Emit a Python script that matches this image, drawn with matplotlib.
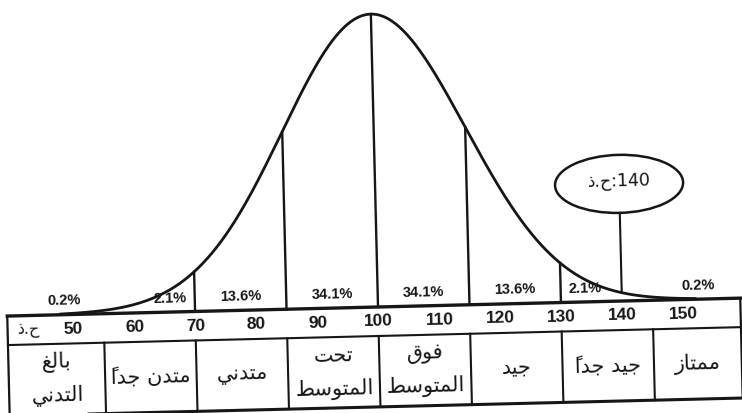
import numpy as np
import matplotlib.pyplot as plt
from matplotlib.patches import Ellipse
from matplotlib.transforms import Affine2D

# ---- data
mean_iq = 100
sd_iq = 15
curve_lines = [70, 85, 100, 115, 130]          # verticals under the curve
cell_edges = [55, 70, 85, 100, 115, 130, 145]  # dividers in the label row
score_ticks = [50, 60, 70, 80, 90, 100, 110, 120, 130, 140, 150]
percents = ['0.2%', '2.1%', '13.6%', '34.1%', '34.1%', '13.6%', '2.1%', '0.2%']
categories = ['بالغ\nالتدني', 'متدن جداً', 'متدني', 'تحت\nالمتوسط',
              'فوق\nالمتوسط', 'جيد', 'جيد جداً', 'ممتاز']
iq_label = 'ح.ذ'
marked_score = 140

# ---- tiny arabic shaper (matplotlib does not join letters itself)
# isolated, final, initial, medial
FORMS = {
    'ا': ('\uFE8D', '\uFE8E', None, None),
    'أ': ('\uFE83', '\uFE84', None, None),
    'ب': ('\uFE8F', '\uFE90', '\uFE91', '\uFE92'),
    'ت': ('\uFE95', '\uFE96', '\uFE97', '\uFE98'),
    'ج': ('\uFE9D', '\uFE9E', '\uFE9F', '\uFEA0'),
    'ح': ('\uFEA1', '\uFEA2', '\uFEA3', '\uFEA4'),
    'د': ('\uFEA9', '\uFEAA', None, None),
    'ذ': ('\uFEAB', '\uFEAC', None, None),
    'ز': ('\uFEAF', '\uFEB0', None, None),
    'س': ('\uFEB1', '\uFEB2', '\uFEB3', '\uFEB4'),
    'ط': ('\uFEC1', '\uFEC2', '\uFEC3', '\uFEC4'),
    'غ': ('\uFECD', '\uFECE', '\uFECF', '\uFED0'),
    'ف': ('\uFED1', '\uFED2', '\uFED3', '\uFED4'),
    'ق': ('\uFED5', '\uFED6', '\uFED7', '\uFED8'),
    'ل': ('\uFEDD', '\uFEDE', '\uFEDF', '\uFEE0'),
    'م': ('\uFEE1', '\uFEE2', '\uFEE3', '\uFEE4'),
    'ن': ('\uFEE5', '\uFEE6', '\uFEE7', '\uFEE8'),
    'و': ('\uFEED', '\uFEEE', None, None),
    'ي': ('\uFEF1', '\uFEF2', '\uFEF3', '\uFEF4'),
}
MARKS = {'\u064B'}


def ar(text):
    # split into clusters of base letter + marks
    clusters = []
    for ch in text:
        if ch in MARKS and clusters:
            clusters[-1] += ch
        else:
            clusters.append(ch)
    shaped = []
    for i, cl in enumerate(clusters):
        base = cl[0]
        if base not in FORMS:
            shaped.append(cl)
            continue
        prev = clusters[i - 1][0] if i > 0 else ''
        nxt = clusters[i + 1][0] if i + 1 < len(clusters) else ''
        join_prev = prev in FORMS and FORMS[prev][2] is not None
        join_next = FORMS[base][2] is not None and nxt in FORMS
        iso, fin, ini, med = FORMS[base]
        if join_prev and join_next:
            g = med
        elif join_prev:
            g = fin
        elif join_next:
            g = ini
        else:
            g = iso
        # mark goes in front so it lands on its letter when drawn left to right
        shaped.append(cl[1:] + g)
    return ''.join(shaped[::-1])


def ar_line(line):
    return ' '.join(ar(w) for w in line.split(' ')[::-1])


def pdf(x):
    return np.exp(-0.5 * ((np.asarray(x) - mean_iq) / sd_iq) ** 2)


# ---- figure, one axes over the whole canvas
fig = plt.figure(figsize=(7.42, 4.13), dpi=100)
ax = fig.add_axes([0, 0, 1, 1])
ax.set_xlim(38.03, 159.67)
ax.set_ylim(-0.3618, 1.0478)
ax.axis('off')

# the scanned page is a little skewed, rotate everything around the base of the mean line
cx, cy = ax.transData.transform((mean_iq, 0))
skew = 1.4
tr = ax.transData + Affine2D().rotate_deg_around(cx, cy, skew)
ink = '#161616'
txt = dict(transform=tr, rotation=skew, rotation_mode='anchor',
           ha='center', va='center', color=ink)

# bell curve
xs = np.linspace(48, 152, 400)
ax.plot(xs, pdf(xs), color=ink, lw=2.0, transform=tr)
for v in curve_lines:
    ax.plot([v, v], [0, pdf(v)], color=ink, lw=1.7, transform=tr)

# table
left, right = 39.2, 159.4
row1, row2 = -0.099, -0.341
ax.plot([left, right], [0, 0], color=ink, lw=2.4, transform=tr)
ax.plot([left, right], [row1, row1], color=ink, lw=1.5, transform=tr)
ax.plot([left, right], [row2, row2], color=ink, lw=2.2, transform=tr)
for v in [left, right]:
    ax.plot([v, v], [0, row2], color=ink, lw=1.6, transform=tr)
for v in cell_edges:
    ax.plot([v, v], [row1, row2], color=ink, lw=1.5, transform=tr)

# percent labels
pct_x = [48.5, 66, 77.5, 92.5, 107.5, 122.5, 134, 152.5]
for x, p in zip(pct_x, percents):
    ax.text(x, 0.047, p, fontsize=10.5, family='Liberation Sans',
            weight='bold', **txt)

# score row
ax.text(42.5, row1 / 2, ar(iq_label), fontsize=11.5, family='DejaVu Sans', **txt)
for s in score_ticks:
    ax.text(s, row1 / 2, str(s), fontsize=12.5, family='Liberation Sans',
            weight='bold', **txt)

# category row
edges = [left] + cell_edges + [right]
mid_y = (row1 + row2) / 2
for i, cat in enumerate(categories):
    xc = (edges[i] + edges[i + 1]) / 2
    lines = cat.split('\n')
    offs = [0] if len(lines) == 1 else [0.057, -0.057]
    for line, o in zip(lines, offs):
        ax.text(xc, mid_y + o, ar_line(line), fontsize=15,
                family='DejaVu Sans', **txt)

# callout for the marked score
ell_y, ell_w, ell_h = 0.40, 21, 0.198
ax.add_patch(Ellipse((marked_score, ell_y), ell_w, ell_h, fill=False,
                     edgecolor=ink, lw=1.8, transform=tr))
ax.plot([marked_score, marked_score], [pdf(marked_score), ell_y - ell_h / 2],
        color=ink, lw=1.5, transform=tr)
ax.text(marked_score, ell_y + 0.01, ar(iq_label) + ':' + str(marked_score),
        fontsize=12.5, family='DejaVu Sans', **txt)

fig.savefig('out.png', dpi=100)
